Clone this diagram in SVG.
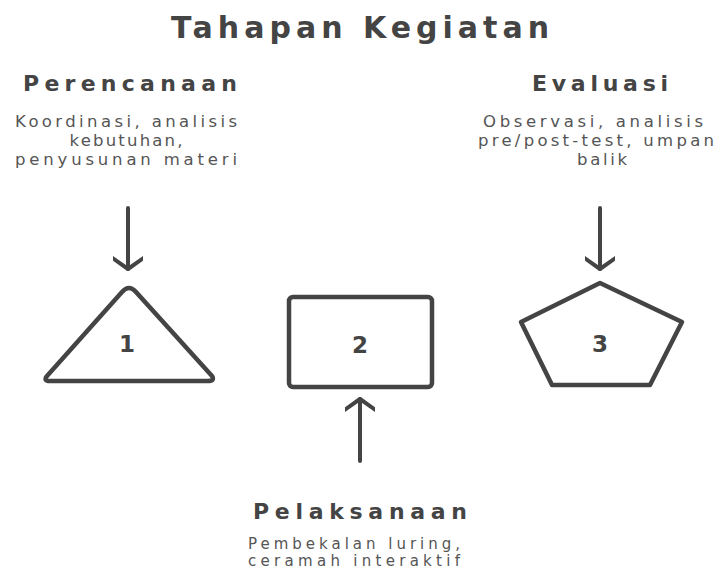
<svg xmlns="http://www.w3.org/2000/svg" width="718" height="571" viewBox="0 0 718 571">
<defs>
<style>
.t{font-family:"DejaVu Sans","Liberation Sans",sans-serif;fill:#444;text-anchor:middle}
.title{font-size:30px;font-weight:bold}
.h{font-size:22px;font-weight:bold}
.s{font-size:16.5px;fill:#555}
.sb{font-size:15px;fill:#555}
.n{font-size:23px;font-weight:bold}
.shape{fill:#fff;stroke:#444;stroke-width:4.5;stroke-linejoin:round;stroke-linecap:round}
.conn{fill:none;stroke:#444;stroke-width:4;stroke-linecap:round;stroke-linejoin:round}
</style>
<marker id="ah" markerUnits="userSpaceOnUse" markerWidth="44" markerHeight="30" viewBox="-22 -15 44 30" refX="0" refY="0" orient="auto">
<path d="M-12,-17 L0,0 L-12,17" fill="none" stroke="#444" stroke-width="4" stroke-linecap="round" stroke-linejoin="round"/>
</marker>
</defs>
<rect width="718" height="571" fill="#fff"/>
<text class="t title" x="360" y="38" textLength="378" lengthAdjust="spacing">Tahapan Kegiatan</text>

<g id="label-perencanaan">
<text class="t h" x="130" y="91" textLength="214" lengthAdjust="spacing">Perencanaan</text>
<text class="t s" x="126" y="127" textLength="222" lengthAdjust="spacing">Koordinasi, analisis</text>
<text class="t s" x="126" y="146" textLength="113" lengthAdjust="spacing">kebutuhan,</text>
<text class="t s" x="126" y="165" textLength="222" lengthAdjust="spacing">penyusunan materi</text>
</g>

<g id="label-evaluasi">
<text class="t h" x="600" y="91" textLength="136" lengthAdjust="spacing">Evaluasi</text>
<text class="t s" x="593" y="127" textLength="220" lengthAdjust="spacing">Observasi, analisis</text>
<text class="t s" x="596" y="146" textLength="236" lengthAdjust="spacing">pre/post-test, umpan</text>
<text class="t s" x="602" y="165" textLength="50" lengthAdjust="spacing">balik</text>
</g>

<g id="label-pelaksanaan">
<text class="t h" x="360" y="519" textLength="214" lengthAdjust="spacing">Pelaksanaan</text>
<text class="t sb" x="354" y="549" textLength="212" lengthAdjust="spacing">Pembekalan luring,</text>
<text class="t sb" x="354" y="566" textLength="212" lengthAdjust="spacing">ceramah interaktif</text>
</g>

<g id="node-1">
<path class="shape" d="M122,292 Q129,284 136,292 L212,376 Q215,381 208,381 L50,381 Q43,381 47,376 Z"/>
<text class="t n" x="127" y="352">1</text>
</g>

<g id="node-2">
<rect class="shape" x="289" y="297" width="143" height="90" rx="4"/>
<text class="t n" x="360" y="353">2</text>
</g>

<g id="node-3">
<path class="shape" d="M600,283 L682,322 L650,385 L552,385 L521,322 Z"/>
<text class="t n" x="600" y="352">3</text>
</g>

<g id="connectors">
<line class="conn" x1="128" y1="208" x2="128" y2="269" marker-end="url(#ah)"/>
<line class="conn" x1="600" y1="208" x2="600" y2="269" marker-end="url(#ah)"/>
<line class="conn" x1="360" y1="461" x2="360" y2="399" marker-end="url(#ah)"/>
</g>
</svg>
